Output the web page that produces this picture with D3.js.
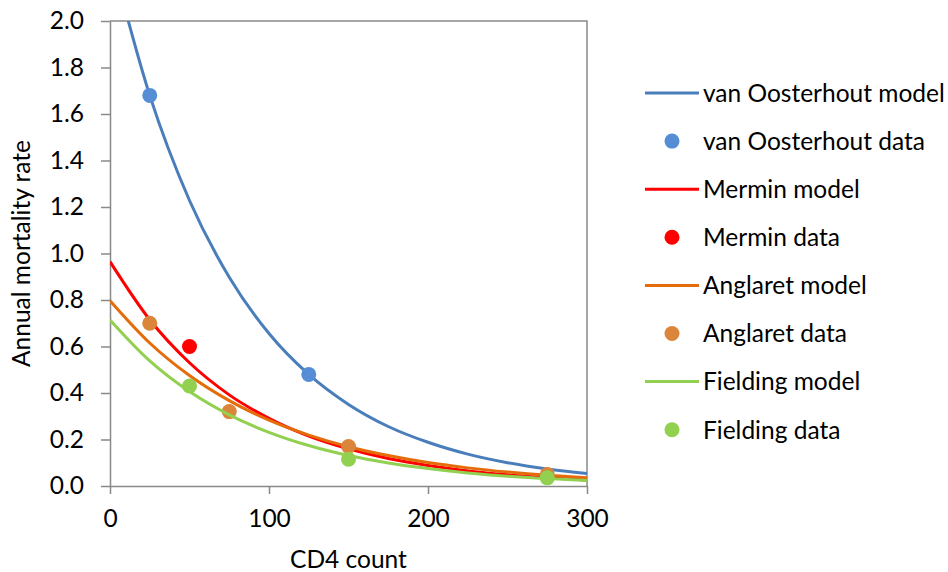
<!DOCTYPE html>
<html>
<head>
<meta charset="utf-8">
<script src="https://cdn.jsdelivr.net/npm/d3@7"></script>
<style>
    body { margin: 0; background: #fff; }
    text { font-family: Lato, "Open Sans", sans-serif; fill: #000; }
</style>
</head>
<body>
<svg width="948" height="572">
    <defs><clipPath id="plot-clip"><rect></rect></clipPath></defs>
    <g class="figure">
        <g class="y-axis"></g>
        <g class="x-axis"></g>
        <g class="series"></g>
    </g>
    <g class="legend"></g>
    <text class="y-title"></text>
    <text class="x-title"></text>
</svg>
<script>
// values
const cd4Grid = [0, 25, 50, 75, 100, 125, 150, 175, 200, 225, 250, 275, 300]

const vanOosterhoutModel = [2.298, 1.68, 1.228, 0.898, 0.656, 0.48, 0.351, 0.256, 0.188, 0.137, 0.100, 0.073, 0.054]
const merminModel = [0.965, 0.715, 0.530, 0.392, 0.291, 0.215, 0.160, 0.118, 0.088, 0.065, 0.048, 0.036, 0.026]
const anglaretModel = [0.797, 0.615, 0.475, 0.367, 0.283, 0.219, 0.169, 0.131, 0.101, 0.078, 0.060, 0.046, 0.036]
const fieldingModel = [0.714, 0.538, 0.406, 0.306, 0.231, 0.174, 0.131, 0.099, 0.075, 0.056, 0.042, 0.032, 0.024]

const vanOosterhoutCD4 = [25, 125]
const vanOosterhoutRate = [1.68, 0.48]
const merminCD4 = [50]
const merminRate = [0.60]
const anglaretCD4 = [25, 75, 150, 275]
const anglaretRate = [0.70, 0.32, 0.17, 0.05]
const fieldingCD4 = [50, 150, 275]
const fieldingRate = [0.43, 0.115, 0.035]

const xTicks = [0, 100, 200, 300]
const yTicks = [0, 0.2, 0.4, 0.6, 0.8, 1.0, 1.2, 1.4, 1.6, 1.8, 2.0]

const config = {
    margin: {left: 110, top: 21},
    fig_width: 477,
    fig_height: 465,
    font_size: 24.5,
    axis_color: "#898989"
}

const zip = (xs, ys) => xs.map((x, i) => ({x: x, y: ys[i]}))

// drawn in Excel's series order
const series = [
    {name: "van Oosterhout model", type: "line", color: "#4A7EBB", points: zip(cd4Grid, vanOosterhoutModel)},
    {name: "van Oosterhout data", type: "dot", color: "#558ED5", points: zip(vanOosterhoutCD4, vanOosterhoutRate)},
    {name: "Mermin model", type: "line", color: "#FF0000", points: zip(cd4Grid, merminModel)},
    {name: "Mermin data", type: "dot", color: "#FF0000", points: zip(merminCD4, merminRate)},
    {name: "Anglaret model", type: "line", color: "#E46C0A", points: zip(cd4Grid, anglaretModel)},
    {name: "Anglaret data", type: "dot", color: "#DA8539", points: zip(anglaretCD4, anglaretRate)},
    {name: "Fielding model", type: "line", color: "#92D050", points: zip(cd4Grid, fieldingModel)},
    {name: "Fielding data", type: "dot", color: "#92D050", points: zip(fieldingCD4, fieldingRate)}
]

const x = d3.scaleLinear().domain([0, 300]).range([0, config.fig_width])
const y = d3.scaleLinear().domain([0, 2]).range([config.fig_height, 0])

const svg = d3.select("svg")

function initializeFigure(svg) {
    svg.select(".figure")
        .attr("transform", "translate("+config.margin.left+","+config.margin.top+")")

    svg.select("#plot-clip rect")
        .attr("width", config.fig_width)
        .attr("height", config.fig_height)

    svg.select(".x-axis")
        .attr("transform", "translate(0,"+config.fig_height+")")

    // top and right border of the plot area
    svg.select(".figure").insert("path", ".series")
        .attr("d", "M0,0H"+config.fig_width+"V"+config.fig_height)
        .attr("fill", "none")
        .attr("stroke", config.axis_color)
        .attr("stroke-width", 1.5)
}

function styleAxis(g) {
    g.select(".domain").attr("stroke", config.axis_color).attr("stroke-width", 1.5)
    g.selectAll(".tick line").attr("stroke", config.axis_color).attr("stroke-width", 1.5)
    g.selectAll(".tick text")
        .attr("fill", "#000")
        .style("font-family", "Lato, sans-serif")
        .style("font-size", config.font_size+"px")
}

function updateAxes(svg) {
    const yAxis = d3.axisLeft(y).tickValues(yTicks).tickFormat(d3.format(".1f"))
        .tickSizeInner(9).tickSizeOuter(0).tickPadding(17)
    const xAxis = d3.axisBottom(x).tickValues(xTicks).tickFormat(d3.format("d"))
        .tickSizeInner(8).tickSizeOuter(0).tickPadding(16)

    svg.select(".y-axis").call(yAxis).call(styleAxis)
    svg.select(".x-axis").call(xAxis).call(styleAxis)
}

function updateSeries(d) {
    let g = d3.select(this)

    if(d.type == "line") {
        const line = d3.line().x(p => x(p.x)).y(p => y(p.y)).curve(d3.curveMonotoneX)
        g.attr("clip-path", "url(#plot-clip)")
        g.append("path")
            .attr("d", line(d.points))
            .attr("fill", "none")
            .attr("stroke", d.color)
            .attr("stroke-width", 3)
    } else {
        g.selectAll("circle")
            .data(d.points)
            .join("circle")
            .attr("cx", p => x(p.x))
            .attr("cy", p => y(p.y))
            .attr("r", 7.5)
            .attr("fill", d.color)
    }
}

function updateChart(svg) {
    svg.select(".series")
        .selectAll("g")
        .data(series)
        .join("g")
        .each(updateSeries)
}

function updateLegend(svg) {
    const rows = svg.select(".legend")
        .attr("transform", "translate(645,93)")
        .selectAll("g")
        .data(series)
        .join("g")
        .attr("transform", (d, i) => "translate(0,"+(i*48.1)+")")

    rows.filter(d => d.type == "line").append("line")
        .attr("x1", 0).attr("x2", 54)
        .attr("stroke", d => d.color)
        .attr("stroke-width", 3)

    rows.filter(d => d.type == "dot").append("circle")
        .attr("cx", 27)
        .attr("r", 7.5)
        .attr("fill", d => d.color)

    rows.append("text")
        .attr("x", 58)
        .attr("dy", "0.36em")
        .style("font-size", config.font_size+"px")
        .text(d => d.name)
}

function updateTitles(svg) {
    svg.select(".x-title")
        .attr("x", config.margin.left + config.fig_width/2)
        .attr("y", 568)
        .attr("text-anchor", "middle")
        .style("font-size", config.font_size+"px")
        .text("CD4 count")

    svg.select(".y-title")
        .attr("transform", "translate(30,"+(config.margin.top + config.fig_height/2)+") rotate(-90)")
        .attr("text-anchor", "middle")
        .style("font-size", config.font_size+"px")
        .text("Annual mortality rate")
}

initializeFigure(svg)
updateAxes(svg)
updateChart(svg)
updateLegend(svg)
updateTitles(svg)
</script>
</body>
</html>
